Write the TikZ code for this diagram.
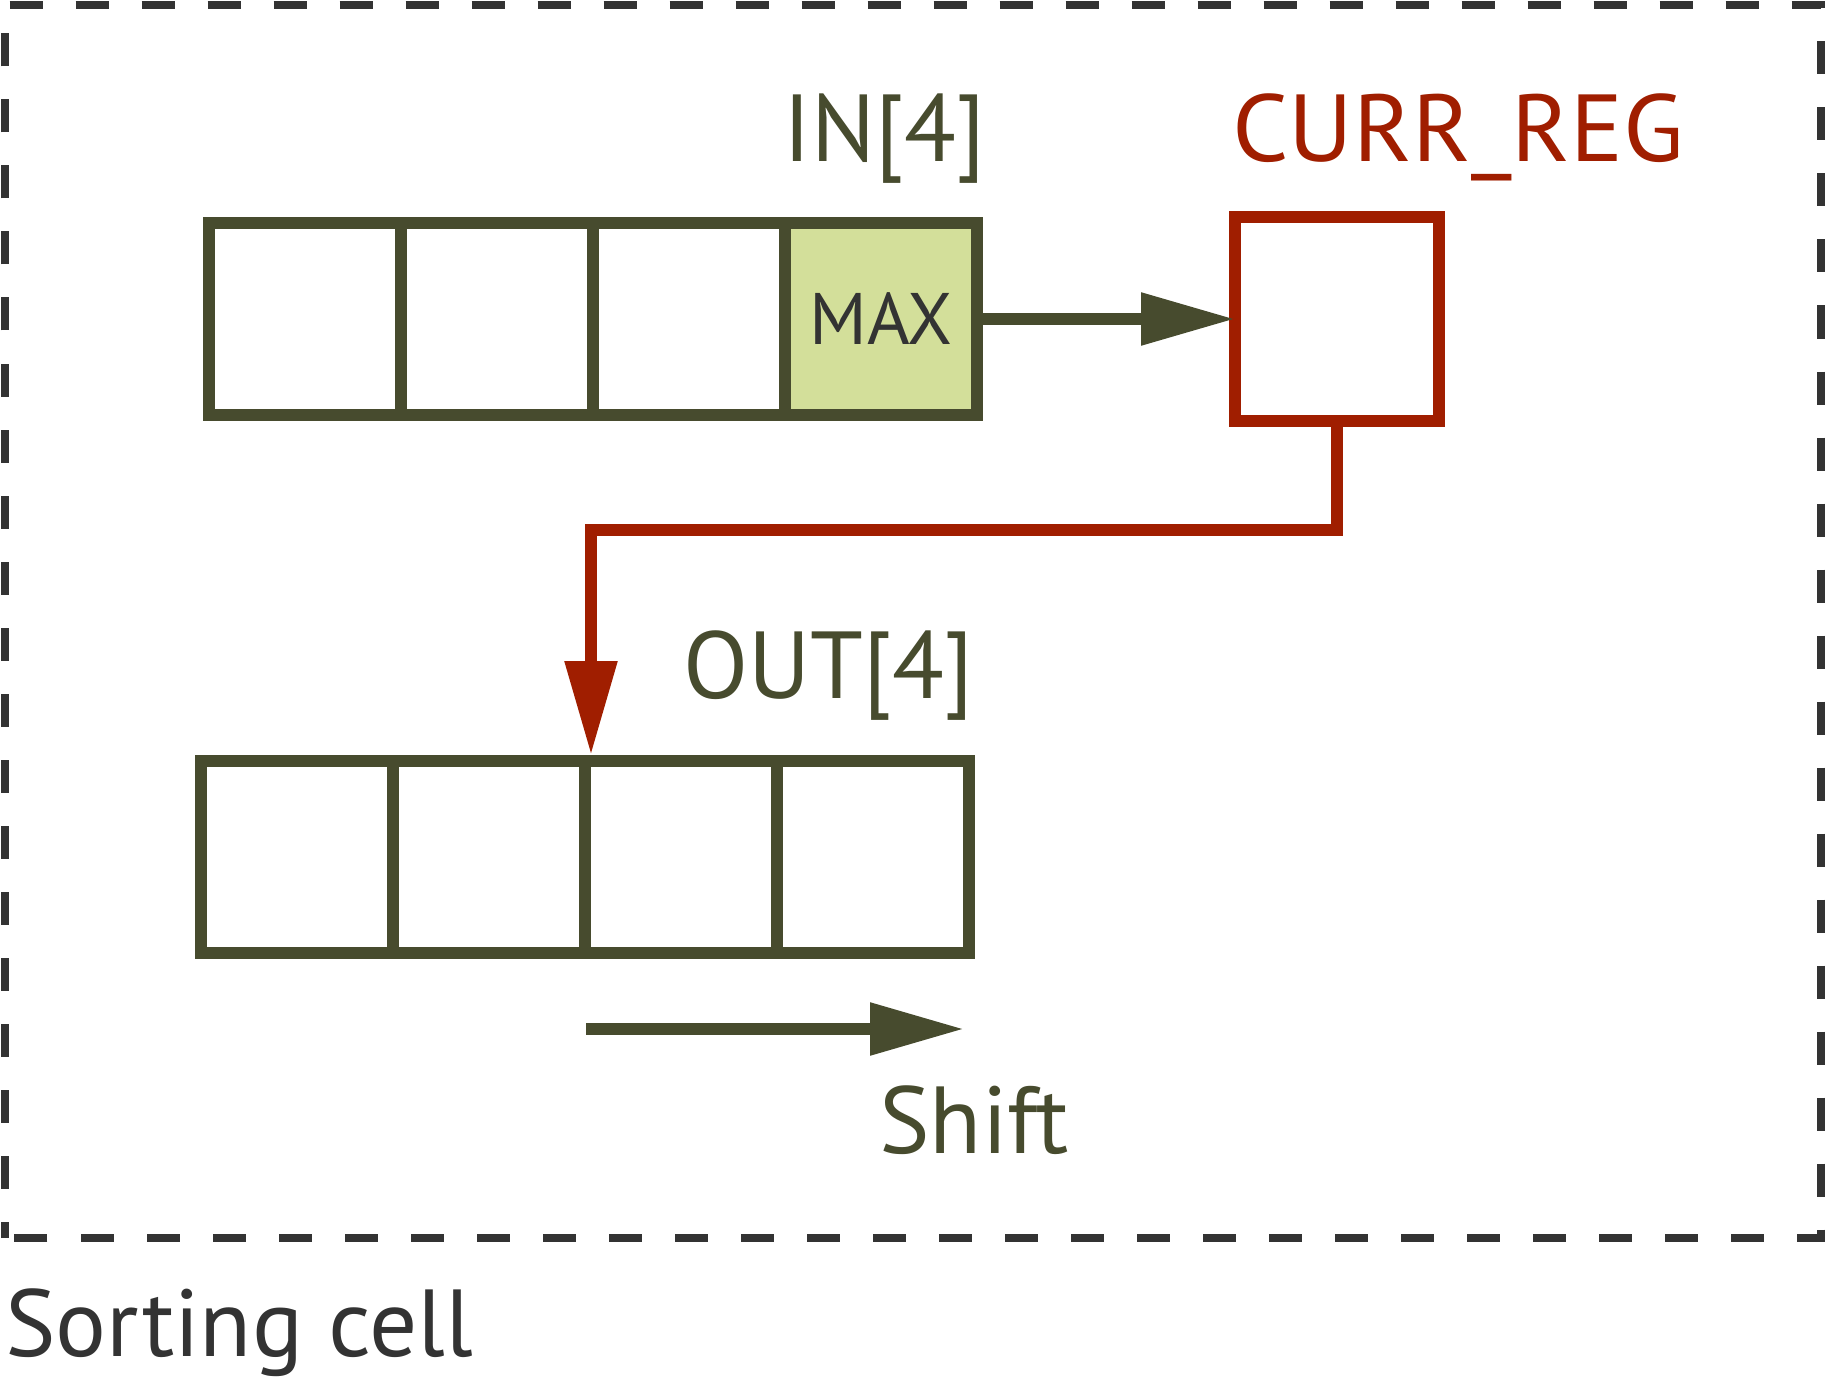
\documentclass[tikz,border=0pt]{standalone}
\usepackage{fontspec}
\setmainfont{PT Sans}
\usetikzlibrary{arrows.meta}
\definecolor{olive}{RGB}{71,75,46}
\definecolor{regred}{RGB}{160,30,0}
\definecolor{maxfill}{RGB}{211,223,154}
\definecolor{framegray}{RGB}{51,51,51}
\begin{document}
\begin{tikzpicture}[x=0.5pt,y=-0.5pt,
  cellbox/.style={draw=olive, line width=6pt, minimum width=96pt, minimum height=96pt, inner sep=0pt, outer sep=0pt, fill=white},
  regbox/.style={draw=regred, line width=6pt, minimum width=102pt, minimum height=102pt, inner sep=0pt, outer sep=0pt, fill=white},
  lbl/.style={inner sep=0pt, anchor=base west, font=\fontsize{47.6pt}{50pt}\selectfont},
  tipped/.style={line width=6pt, -{Triangle[length=47pt,width=25pt]}},
  cellframe/.style={draw=framegray, line width=4pt, dash pattern=on 16.5pt off 16.5pt, dash phase=8.25pt}
]
\useasboundingbox (0,0) rectangle (1826,1380);
% dashed frame of the sorting cell
\draw[cellframe] (5,1238) -- (5,5) -- (1821,5) -- (1821,1238) -- cycle;

% IN[4]
\node[cellbox] (in1) at (305,319) {};
\node[cellbox] (in2) at (497,319) {};
\node[cellbox] (in3) at (689,319) {};
\node[cellbox, fill=maxfill] (in4) at (881,319) {};
\node[inner sep=0pt, text=framegray, font=\fontsize{36.5pt}{37pt}\selectfont] (maxlbl) at (in4.center) {MAX};

% CURR_REG
\node[regbox] (curr) at (1337,319) {};

% OUT[4]
\node[cellbox] (out1) at (297,857) {};
\node[cellbox] (out2) at (489,857) {};
\node[cellbox] (out3) at (681,857) {};
\node[cellbox] (out4) at (873,857) {};

% labels
\node[lbl, text=olive] (inlbl) at (783,162) {IN[4]};
\node[lbl, text=regred] (currlbl) at (1232,162) {\scalebox{1.04}[1]{CURR\_REG}};
\node[lbl, text=olive] (outlbl) at (683,698) {OUT[4]};
\node[lbl, text=olive] (shiftlbl) at (879,1153) {Shift};
\node[lbl, text=framegray] (celllbl) at (5,1356) {Sorting cell};

% connectors
\draw[tipped, olive] (in4.east) -- (curr.west);
\draw[tipped, regred] (curr.south) -- ++(0,109) -| ([xshift=3pt,yshift=3pt]out3.north west);
\coordinate (s0) at (586,1029);
\coordinate (s1) at (964,1029);
\draw[tipped, olive] (s0) -- (s1);
\end{tikzpicture}
\end{document}
